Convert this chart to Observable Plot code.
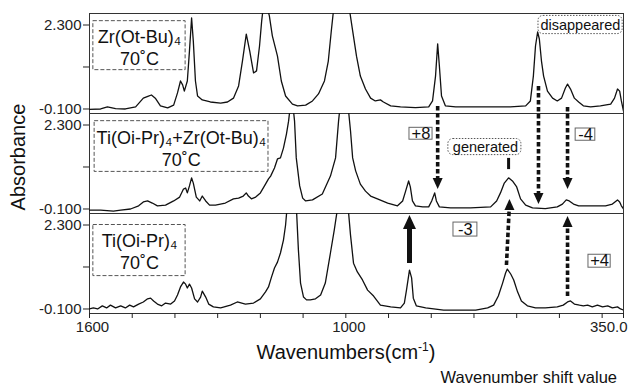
<!DOCTYPE html>
<html>
<head>
<meta charset="utf-8">
<script src="https://cdn.jsdelivr.net/npm/d3@7"></script>
<script src="https://cdn.jsdelivr.net/npm/@observablehq/plot@0.6"></script>
<style>
html, body { margin: 0; padding: 0; background: #fff; }
#chart svg { display: block; }
</style>
</head>
<body>
<div id="chart"></div>
<script>
// ---- panels & ticks ----
const panels = ["Zr", "Mix", "Ti"];
const xTicks = [1600, 1500, 1400, 1300, 1200, 1100, 1000, 900, 800, 700, 600, 500, 400, 350];
const xTickLabels = [1600, 1000];
const xEndLabel = [350];
const yTicks = [-0.1, 1.1, 2.3];
const yTickLabels = [-0.1, 2.3];

// ---- spectra: Zr(Ot-Bu)4 ----
const zrWave = [1600,1574,1558,1539,1516,1492,1474,1462,1455,1446,1434,1417,1403,1394,1387,1382,1378,1371,1366,1361,1357,1352,1347,1336,1317,1293,1277,1263,1251,1242,1233,1225,1216,1209,1202,1197,1193,1186,1179,1172,1160,1151,1141,1125,1113,1094,1078,1064,1050,1041,1034,1029,1012,991,984,975,966,954,942,931,919,912,895,872,837,806,797,790,785,781,776,767,743,685,615,579,568,561,556,551,547,542,537,528,516,505,495,486,481,474,465,455,444,427,404,380,371,364,359,355,350];
const zrAbs = [-0.11,-0.10,-0.04,-0.09,-0.10,-0.04,0.21,0.27,0.30,0.21,-0.01,-0.07,0.01,0.36,0.70,0.59,0.41,0.70,1.56,2.50,1.84,0.70,0.27,0.16,0.10,0.07,0.10,0.21,0.56,1.27,2.04,1.56,0.93,0.99,1.70,2.41,2.84,2.90,2.56,1.99,1.41,0.70,0.27,0.04,-0.01,0.01,0.13,0.33,0.70,1.27,2.13,2.70,3.00,2.70,2.13,1.41,0.84,0.47,0.21,0.13,0.16,0.10,-0.01,-0.04,-0.06,-0.04,0.13,0.84,1.76,1.13,0.27,-0.01,-0.04,-0.04,-0.04,-0.01,0.13,0.84,1.70,2.10,1.90,1.27,0.84,0.41,0.21,0.13,0.21,0.50,0.61,0.47,0.21,0.10,-0.01,-0.04,-0.01,0.04,0.21,0.47,0.41,0.13,-0.16];

// ---- spectra: Ti(Oi-Pr)4 + Zr(Ot-Bu)4 ----
const mixWave = [1600,1574,1544,1527,1504,1485,1474,1464,1453,1441,1422,1403,1389,1380,1375,1371,1366,1361,1357,1350,1342,1336,1328,1319,1305,1282,1263,1251,1240,1233,1228,1221,1211,1200,1188,1181,1176,1167,1160,1153,1146,1139,1134,1130,1125,1120,1116,1108,1101,1094,1078,1055,1036,1024,1017,1012,996,989,984,977,966,954,942,926,902,879,867,860,853,849,844,837,820,806,799,792,788,781,755,708,661,647,638,629,619,610,600,591,579,563,533,505,493,484,477,467,455,427,392,376,364,359,355,350];
const mixAbs = [-0.13,-0.13,-0.16,-0.13,-0.10,-0.01,0.10,0.13,0.07,-0.01,0.01,0.13,0.24,0.47,0.50,0.36,0.56,0.79,0.64,0.24,0.13,0.27,0.13,0.01,0.01,0.07,0.19,0.21,0.27,0.36,0.27,0.19,0.24,0.36,0.61,0.76,0.84,1.07,1.33,1.36,1.64,2.04,2.41,2.84,3.00,2.41,1.36,0.56,0.21,0.13,0.16,0.33,0.84,1.36,2.41,3.00,3.00,2.13,1.36,0.99,0.61,0.41,0.27,0.19,0.07,-0.01,0.13,0.41,0.70,0.53,0.13,-0.01,-0.04,-0.04,0.13,0.36,0.13,-0.04,-0.07,-0.07,-0.04,0.13,0.36,0.64,0.79,0.70,0.53,0.19,0.01,-0.07,-0.09,-0.04,0.04,0.16,0.13,0.04,-0.01,-0.01,-0.01,0.04,0.16,0.10,-0.01,-0.10];

// ---- spectra: Ti(Oi-Pr)4 ----
const tiWave = [1600,1591,1581,1570,1560,1551,1539,1527,1516,1506,1497,1485,1474,1464,1457,1450,1441,1431,1422,1410,1401,1394,1387,1380,1375,1371,1366,1361,1354,1347,1340,1336,1328,1321,1310,1293,1270,1254,1235,1216,1200,1188,1181,1174,1167,1160,1153,1146,1141,1137,1125,1116,1111,1106,1099,1092,1083,1071,1059,1048,1036,1027,1020,1012,996,989,982,973,961,949,935,919,895,872,863,858,851,846,842,835,813,771,732,696,668,654,643,633,626,622,614,607,598,589,575,556,533,505,491,481,474,465,453,444,434,423,411,399,387,376,364,357,350];
const tiAbs = [-0.10,-0.07,-0.10,-0.01,-0.07,0.01,-0.07,-0.01,-0.07,0.01,-0.04,0.04,0.10,0.19,0.21,0.13,0.04,-0.01,0.07,0.04,0.13,0.30,0.53,0.67,0.61,0.50,0.61,0.50,0.19,0.10,0.24,0.41,0.24,0.04,-0.04,-0.07,0.01,0.10,0.04,0.07,0.19,0.39,0.53,0.81,1.07,1.24,1.50,1.87,2.30,2.87,3.20,2.87,1.59,0.64,0.24,0.16,0.16,0.19,0.30,0.64,1.50,2.16,2.73,3.00,3.00,2.01,1.21,0.96,0.73,0.44,0.27,0.01,-0.04,-0.07,0.07,0.44,1.01,0.79,0.21,-0.01,-0.07,-0.13,-0.13,-0.13,-0.07,0.01,0.27,0.64,0.93,1.04,0.90,0.73,0.39,0.13,-0.01,-0.07,-0.07,-0.04,0.01,0.10,0.13,0.04,0.01,-0.01,0.01,-0.04,0.01,-0.04,-0.01,-0.07,-0.04,-0.10,-0.13];

// ---- sample labels (data coordinates) ----
const labelText = ["Zr(Ot-Bu)\u2084\n70\u02DAC", "Ti(Oi-Pr)\u2084+Zr(Ot-Bu)\u2084\n70\u02DAC", "Ti(Oi-Pr)\u2084\n70\u02DAC"];
const labelW = [1483, 1385, 1483];
const labelA = [1.671, 1.643, 1.557];
const labelBoxW1 = [1591, 1588, 1591];
const labelBoxW2 = [1375, 1181, 1375];
const labelBoxA1 = [1.01, 0.96, 0.84];
const labelBoxA2 = [2.41, 2.41, 2.30];

// ---- shift values ----
const shiftText = ["+8", "-4", "-3", "+4"];
const shiftPanel = ["Mix", "Mix", "Ti", "Ti"];
const shiftW = [824, 439, 720, 406];
const shiftA = [2.043, 2.014, 2.157, 1.271];
const shiftBoxW1 = [851, 462, 748, 432];
const shiftBoxW2 = [797, 416, 692, 380];
const shiftBoxA1 = [1.88, 1.85, 1.97, 1.08];
const shiftBoxA2 = [2.22, 2.20, 2.37, 1.45];

// ---- notes ----
const noteText = ["disappeared", "generated"];
const notePanel = ["Zr", "Mix"];
const noteW = [451, 673];
const noteA = [2.30, 1.671];
const noteBoxW1 = [549, 760];
const noteBoxW2 = [352, 589];
const noteBoxA1 = [2.04, 1.44];
const noteBoxA2 = [2.56, 1.90];
const genTickW = [619];
const genTickA1 = [1.04];
const genTickA2 = [1.36];

// ---- arrows ----
const arrowPanel = ["Zr", "Zr", "Zr", "Ti", "Ti", "Ti"];
const arrowW1 = [785, 549, 481, 851, 624, 481];
const arrowA1 = [-0.014, 0.557, -0.043, 1.214, 1.157, 0.271];
const arrowW2 = [785, 549, 481, 851, 617, 481];
const arrowA2 = [-2.386, -2.814, -2.386, 2.586, 3.043, 2.557];
const arrowSolid = [false, false, false, true, false, false];

// ---- build tables ----
const spectra = [
  ...zrWave.map((w, i) => ({panel: "Zr", w, a: zrAbs[i]})),
  ...mixWave.map((w, i) => ({panel: "Mix", w, a: mixAbs[i]})),
  ...tiWave.map((w, i) => ({panel: "Ti", w, a: tiAbs[i]}))
];
const labels = panels.map((p, i) => ({panel: p, text: labelText[i], w: labelW[i], a: labelA[i],
  bw1: labelBoxW1[i], bw2: labelBoxW2[i], ba1: labelBoxA1[i], ba2: labelBoxA2[i]}));
const shifts = shiftText.map((t, i) => ({panel: shiftPanel[i], text: t, w: shiftW[i], a: shiftA[i],
  bw1: shiftBoxW1[i], bw2: shiftBoxW2[i], ba1: shiftBoxA1[i], ba2: shiftBoxA2[i]}));
const notes = noteText.map((t, i) => ({panel: notePanel[i], text: t, w: noteW[i], a: noteA[i],
  bw1: noteBoxW1[i], bw2: noteBoxW2[i], ba1: noteBoxA1[i], ba2: noteBoxA2[i]}));
const genTick = genTickW.map((w, i) => ({panel: "Mix", w, a1: genTickA1[i], a2: genTickA2[i]}));
const arrows = arrowPanel.map((p, i) => ({panel: p, w1: arrowW1[i], a1: arrowA1[i], w2: arrowW2[i], a2: arrowA2[i],
  solid: arrowSolid[i], up: arrowA2[i] > arrowA1[i]}));

const triDown = (w, h) => ({draw(ctx) { ctx.moveTo(0, 0); ctx.lineTo(-w / 2, -h); ctx.lineTo(w / 2, -h); ctx.closePath(); }});
const triUp = (w, h) => ({draw(ctx) { ctx.moveTo(0, 0); ctx.lineTo(-w / 2, h); ctx.lineTo(w / 2, h); ctx.closePath(); }});
const shaftEnd = (d, inset) => d.a2 - (d.up ? inset : -inset);

const ink = "#111";

const svg = Plot.plot({
  width: 628,
  height: 385,
  marginLeft: 89,
  marginRight: 5,
  marginTop: 13,
  marginBottom: 72,
  style: {fontFamily: "'Liberation Sans', Arial, sans-serif", fontSize: "15px", color: "#222", background: "#fff"},
  x: {domain: [1600, 350], label: null},
  y: {domain: [-0.229, 2.629], label: null},
  fy: {domain: panels, padding: 0, axis: null, label: null},
  marks: [
    Plot.frame({stroke: "#333", strokeWidth: 1}),
    Plot.axisY({ticks: yTicks, tickSize: 6, fill: "none", label: null}),
    Plot.axisY({ticks: yTickLabels, tickSize: 0, tickPadding: 8, fontSize: 15, fill: "#222",
      tickFormat: d => d.toFixed(3), label: null}),
    Plot.axisX({ticks: xTicks, tickSize: 5, fill: "none", label: null}),
    Plot.axisX({ticks: xTickLabels, tickSize: 0, tickPadding: 8, fontSize: 15, fill: "#222",
      tickFormat: d => String(d), dx: 3, label: null}),
    Plot.axisX({ticks: xEndLabel, tickSize: 0, tickPadding: 8, fontSize: 15, fill: "#222",
      tickFormat: d => d.toFixed(1), textAnchor: "end", dx: 4, label: null}),
    Plot.line(spectra, {x: "w", y: "a", z: "panel", fy: "panel", clip: true, stroke: ink, strokeWidth: 1.3, strokeLinejoin: "round"}),
    // sample label boxes
    Plot.rect(labels, {x1: "bw1", x2: "bw2", y1: "ba1", y2: "ba2", fy: "panel", fill: "none", stroke: "#555", strokeWidth: 1, strokeDasharray: "4,2"}),
    Plot.text(labels, {x: "w", y: "a", text: "text", fy: "panel", fontSize: 18, lineHeight: 1.22, fill: ink}),
    // shift value boxes
    Plot.rect(shifts, {x1: "bw1", x2: "bw2", y1: "ba1", y2: "ba2", fy: "panel", fill: "none", stroke: "#666", strokeWidth: 1}),
    Plot.text(shifts, {x: "w", y: "a", text: "text", fy: "panel", fontSize: 16.5, fill: ink}),
    // notes
    Plot.rect(notes, {x1: "bw1", x2: "bw2", y1: "ba1", y2: "ba2", fy: "panel", fill: "none", stroke: "#555", strokeWidth: 1, strokeDasharray: "1.5,1.5", rx: 5}),
    Plot.text(notes, {x: "w", y: "a", text: "text", fy: "panel", fontSize: 14.5, fill: ink}),
    Plot.link(genTick, {x1: "w", x2: "w", y1: "a1", y2: "a2", fy: "panel", stroke: ink, strokeWidth: 3}),
    // arrows
    Plot.link(arrows.filter(d => !d.solid), {x1: "w1", y1: "a1", x2: "w2", y2: d => shaftEnd(d, 0.14), fy: "panel",
      stroke: ink, strokeWidth: 3.6, strokeDasharray: "4.5,2.5"}),
    Plot.link(arrows.filter(d => d.solid), {x1: "w1", y1: "a1", x2: "w2", y2: d => shaftEnd(d, 0.2), fy: "panel",
      stroke: ink, strokeWidth: 5}),
    Plot.dot(arrows.filter(d => !d.solid && !d.up), {x: "w2", y: "a2", fy: "panel", symbol: triDown(10, 11), fill: ink, stroke: "none"}),
    Plot.dot(arrows.filter(d => !d.solid && d.up), {x: "w2", y: "a2", fy: "panel", symbol: triUp(10, 11), fill: ink, stroke: "none"}),
    Plot.dot(arrows.filter(d => d.solid), {x: "w2", y: "a2", fy: "panel", symbol: triUp(13, 14), fill: ink, stroke: "none"})
  ]
});

const s = d3.select(svg);
s.append("text")
  .attr("transform", "translate(25,157) rotate(-90)")
  .attr("text-anchor", "middle")
  .attr("font-size", 20)
  .attr("fill", ink)
  .text("Absorbance");
const title = s.append("text")
  .attr("x", 346).attr("y", 359)
  .attr("text-anchor", "middle")
  .attr("font-size", 20)
  .attr("fill", ink);
title.append("tspan").text("Wavenumbers(cm");
title.append("tspan").attr("dy", -8).attr("font-size", 12).text("-1");
title.append("tspan").attr("dy", 8).text(")");
s.append("text")
  .attr("x", 617).attr("y", 383)
  .attr("text-anchor", "end")
  .attr("font-size", 16.5)
  .attr("fill", ink)
  .text("Wavenumber shift value");

document.getElementById("chart").appendChild(svg);
</script>
</body>
</html>
